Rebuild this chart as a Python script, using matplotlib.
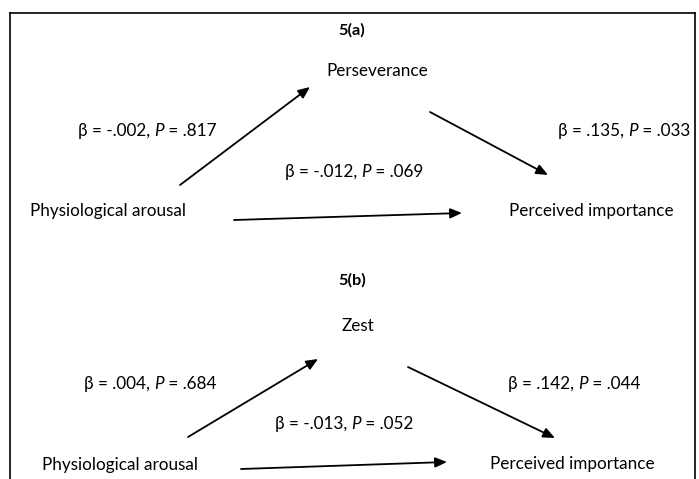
import matplotlib.pyplot as plt

plt.rcParams['font.family'] = ['Lato', 'DejaVu Sans']

panel_titles = ["5(a)", "5(b)"]
mediators = ["Perseverance", "Zest"]
predictor = "Physiological arousal"
outcome = "Perceived importance"
a_beta = ["-.002", ".004"]
a_p = [".817", ".684"]
b_beta = [".135", ".142"]
b_p = [".033", ".044"]
c_beta = ["-.012", "-.013"]
c_p = [".069", ".052"]

fig = plt.figure(figsize=(6.99, 4.79), dpi=100)
ax = fig.add_axes([0, 0, 1, 1])
ax.set_xlim(0, 699)
ax.set_ylim(479, 0)
ax.axis('off')

# frame
ax.plot([10, 10], [479, 13], color='black', lw=1.2)
ax.plot([10, 695], [13, 13], color='black', lw=1.2)
ax.plot([695, 695], [13, 479], color='black', lw=1.2)

fs = 12.3
layouts = [
    dict(title=(352, 30), med=(377, 71), a=((180, 185), (310, 87)), b=((430, 112), (548, 175)),
         c=((234, 220), (462, 213)), a_lab=(78, 131), b_lab=(558, 131), c_lab=(285, 172),
         pred=(30, 211), out=(509, 211)),
    dict(title=(352, 280), med=(358, 326), a=((188, 437), (318, 359)), b=((408, 367), (555, 438)),
         c=((241, 469), (447, 462)), a_lab=(84, 384), b_lab=(508, 384), c_lab=(275, 424),
         pred=(42, 465), out=(490, 464)),
]

def coef(x, y, beta, p):
    t = ax.text(x, y, "β = " + beta + ", ", fontsize=fs, va='center', ha='left')
    fig.canvas.draw()
    bb = t.get_window_extent()
    inv = ax.transData.inverted()
    x1 = inv.transform((bb.x1, bb.y0))[0]
    t2 = ax.text(x1, y, "P", fontsize=fs, va='center', ha='left', style='italic')
    bb2 = t2.get_window_extent()
    x2 = inv.transform((bb2.x1, bb2.y0))[0]
    ax.text(x2, y, " = " + p, fontsize=fs, va='center', ha='left')

for i, L in enumerate(layouts):
    ax.text(*L['title'], panel_titles[i], fontsize=fs - 0.5, fontweight='bold', ha='center', va='center')
    ax.text(*L['med'], mediators[i], fontsize=fs, ha='center', va='center')
    ax.text(*L['pred'], predictor, fontsize=fs, ha='left', va='center')
    ax.text(*L['out'], outcome, fontsize=fs, ha='left', va='center')
    for key in ['a', 'b', 'c']:
        (x0, y0), (x1, y1) = L[key]
        ax.annotate('', xy=(x1, y1), xytext=(x0, y0),
                    arrowprops=dict(arrowstyle='-|>,head_length=0.7,head_width=0.3',
                                    color='black', lw=1.3, shrinkA=0, shrinkB=0))
    coef(*L['a_lab'], a_beta[i], a_p[i])
    coef(*L['b_lab'], b_beta[i], b_p[i])
    coef(*L['c_lab'], c_beta[i], c_p[i])

fig.savefig('out.png', dpi=100)
